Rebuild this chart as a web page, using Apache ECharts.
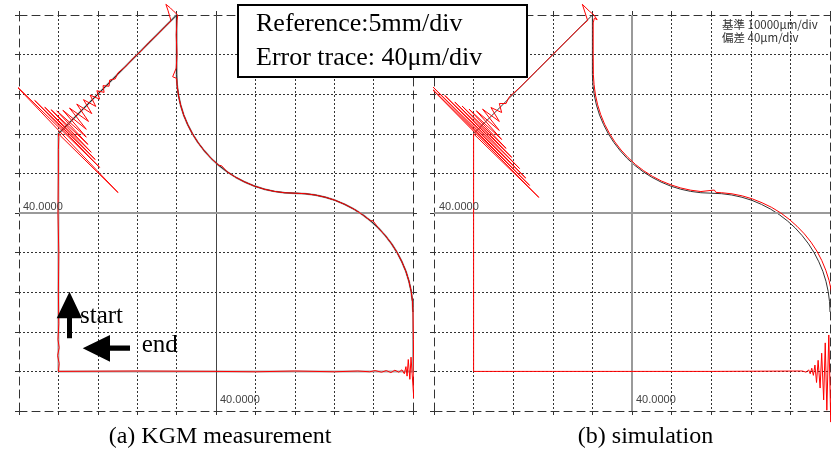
<!DOCTYPE html>
<html>
<head>
<meta charset="utf-8">
<script src="https://cdn.jsdelivr.net/npm/echarts@6/dist/echarts.min.js"></script>
<style>
  html, body { margin: 0; padding: 0; background: #fff; }
  #chart { width: 831px; height: 457px; }
</style>
</head>
<body>
<div id="chart"></div>
<script>
// ---- axis range (mm) : 5 mm per division ----
const axisMin = 15;
const axisMax = 65;
const axisStep = 5;
const centerValue = 40;
const centerLabel = '40.0000';

// ---- commanded reference path (mm) ----
const refPath = [[20,20],[20,50],[35,65],[35,57.5],
[35.06,56.19],[35.23,54.90],[35.51,53.62],[35.90,52.37],[36.41,51.16],[37.01,50.0],[37.71,48.90],[38.51,47.86],[39.39,46.89],[40.36,46.01],[41.40,45.21],[42.5,44.51],[43.66,43.91],[44.87,43.40],[46.12,43.01],[47.40,42.73],[48.69,42.56],[50,42.5],
[51.31,42.44],[52.60,42.27],[53.88,41.99],[55.13,41.60],[56.34,41.09],[57.5,40.49],[58.60,39.79],[59.64,38.99],[60.61,38.11],[61.49,37.14],[62.29,36.10],[62.99,35.0],[63.59,33.84],[64.10,32.63],[64.49,31.38],[64.77,30.10],[64.94,28.81],[65,27.5],
[65,20],[20,20]];

// ---- (a) KGM measurement error trace (mm) ----
const traceA = [[20,20],[20.1,21],[19.9,22],[20.1,23],[19.95,24],[20.05,26],[20,30],[20.05,35],[19.95,40],[20,45],[20,48],[20.05,49.5],[20,50],
[27.57,42.58],[13.99,56.72],[25.23,45.76],[17.0,54.21],[24.67,46.75],[18.27,53.36],[24.17,47.67],[19.08,53.04],[23.75,48.66],[19.79,52.90],[23.54,49.58],[20.57,52.97],[23.54,50.57],[21.41,53.25],[23.82,51.56],[22.33,53.75],[24.24,52.55],[23.18,54.31],[24.74,53.46],[24.03,54.88],[25.23,54.38],[24.88,55.44],[25.80,55.23],[25.66,56.08],[26.43,56.01],[26.51,56.79],[27.21,56.93],[27.57,57.71],
[28.5,58.45],[29.5,59.55],[30.5,60.45],[31.5,61.55],[32.5,62.45],[33.5,63.5],[34.3,64.25],[33.9,65.6],[33.64,66.35],[34.2,65.9],[34.7,65.4],[35.15,65.0],[35.05,64.3],[34.95,62.5],[35.05,60],[34.95,58.3],[34.5,57.2],[35.0,57.0],
[35.06,56.19],[35.23,54.90],[35.51,53.62],[35.90,52.37],[36.41,51.16],[37.01,50.0],[37.71,48.90],[38.51,47.86],[38.75,47.9],[39.39,46.89],[39.6,46.95],[40.36,46.01],[40.7,45.98],[41.40,45.21],[42.5,44.51],[43.66,43.91],[43.85,44.0],[44.87,43.40],[46.12,43.01],[47.40,42.73],[48.69,42.56],[50,42.5],
[51.31,42.44],[52.60,42.27],[53.88,41.99],[55.13,41.60],[56.34,41.09],[57.5,40.49],[57.75,40.5],[58.60,39.79],[58.85,39.85],[59.64,38.99],[59.9,39.05],[60.61,38.11],[60.85,38.2],[61.49,37.14],[62.29,36.10],[62.5,36.2],[62.99,35.0],[63.59,33.84],[64.10,32.63],[64.49,31.38],[64.77,30.10],[64.94,28.81],[65,27.5],
[65.05,24],[65.1,20],[65.1,16.6],[64.75,21.8],[64.6,19.0],[64.4,21.5],[64.25,19.4],[64.1,20.6],[63.9,19.7],[63.6,20.2],[63.2,19.9],[62.7,20.15],[62.2,19.85],[61.6,20.1],[61.0,19.9],[60.2,20.1],[59.5,19.95],[58,20.05],[55,19.95],[50,20.05],[45,19.95],[40,20],[30,20.05],[20,20]];

// ---- (b) simulation error trace (mm) ----
const traceB = [[20,20],[20,35],[20,50],
[28.24,41.97],[12.08,58.34],[27.07,43.49],[14.73,56.05],[26.58,44.41],[16.36,54.84],[25.80,45.62],[17.63,54.00],[24.81,47.03],[18.55,53.50],[24.10,48.16],[19.43,53.11],[23.54,49.29],[20.35,52.90],[23.25,50.42],[21.13,53.11],[23.25,51.56],[22.19,53.32],[23.54,52.69],[23.25,53.82],[24.10,53.82],[24.45,54.60],
[26,56],[28,58],[30,60],[32,62],[33.5,63.5],[34.4,64.3],[33.73,66.35],[34.6,65.5],[35.2,65.0],[35.6,64.4],[35.25,64.6],[35.1,64],[35.1,60],[35.12,57.5],
[35.21,56.20],[35.38,54.92],[35.66,53.66],[36.05,52.42],[36.54,51.22],[37.14,50.07],[37.83,48.98],[38.62,47.95],[39.50,47.0],[40.45,46.12],[41.48,45.33],[42.57,44.64],[43.72,44.04],[44.92,43.55],[46.16,43.16],[47.42,42.88],[48.70,42.71],[50.4,42.9],[50.6,42.6],
[51.32,42.56],[52.63,42.42],[53.93,42.16],[55.20,41.78],[56.43,41.29],[57.63,40.71],[58.76,40.02],[59.83,39.22],[60.83,38.33],[61.76,37.37],[62.60,36.32],[63.34,35.20],[63.96,34.01],[64.47,32.77],[64.88,31.49],[65.17,30.17],[65.32,28.84],[65.35,27.5],
[65.3,25.5],[65.25,24.8],[65.1,13.6],[64.85,24.6],[64.6,15.1],[64.4,23.6],[64.2,16.4],[63.95,22.3],[63.75,17.9],[63.5,21.4],[63.3,18.6],[63.1,20.8],[62.9,19.5],[62.7,20.4],[62.5,19.7],[62.3,20.2],[62.0,19.9],[61.5,20.05],[50,20],[40,20],[30,20],[20,20]];

// ---- texts ----
const boxLines = ['Reference:5mm/div', 'Error trace: 40\u03bcm/div'];
const captions = ['(a) KGM measurement', '(b) simulation'];
const scaleNotes = ['基準 10000\u03bcm/div', '偏差 40\u03bcm/div'];
const arrowLabels = ['start', 'end'];

// dark reference stroke: from the first corner to the end of the second arc
const refDark = refPath.slice(1, refPath.length - 2);

const chart = echarts.init(document.getElementById('chart'), null, { renderer: 'canvas' });

const dashBorder = { color: '#333', width: 1, type: [8, 5] };
const gridDots = { color: '#333', width: 1, type: [2, 2] };
function makeAxis(gi, pos, withSplit) {
  return {
    type: 'value', gridIndex: gi, min: axisMin, max: axisMax, interval: axisStep, position: pos,
    axisLine: { show: true, onZero: false, lineStyle: dashBorder },
    axisTick: { show: true, length: 4, lineStyle: { color: '#333' } },
    axisLabel: { show: false },
    splitLine: withSplit
      ? { show: true, showMinLine: false, showMaxLine: false, lineStyle: gridDots }
      : { show: false }
  };
}

function centerMarks(vColor, vWidth) {
  return {
    silent: true, symbol: ['none', 'none'], label: { show: false },
    data: [
      { xAxis: centerValue, lineStyle: { color: vColor, width: vWidth, type: 'solid' } },
      { yAxis: centerValue, lineStyle: { color: '#9a9a9a', width: 2, type: 'solid' } }
    ]
  };
}

const seriesList = [
  // panel (a)
  { type: 'line', xAxisIndex: 0, yAxisIndex: 0, data: refPath, symbol: 'none', silent: true,
    lineStyle: { color: '#a8a8a8', width: 2 }, markLine: centerMarks('#444', 1), z: 1 },
  { type: 'line', xAxisIndex: 0, yAxisIndex: 0, data: refDark, symbol: 'none', silent: true,
    lineStyle: { color: '#222', width: 1 }, z: 2 },
  { type: 'line', xAxisIndex: 0, yAxisIndex: 0, data: traceA, symbol: 'none', silent: true, clip: false,
    lineStyle: { color: '#ff0000', width: 1 }, z: 10 },
  // panel (b)
  { type: 'line', xAxisIndex: 2, yAxisIndex: 2, data: refDark, symbol: 'none', silent: true,
    lineStyle: { color: '#333', width: 1 }, markLine: centerMarks('#9a9a9a', 2), z: 1 },
  { type: 'line', xAxisIndex: 2, yAxisIndex: 2, data: traceB, symbol: 'none', silent: true, clip: false,
    lineStyle: { color: '#ff0000', width: 1 }, z: 10 }
];

function txt(x, y, text, font, align, color) {
  return { type: 'text', x: x, y: y, z: 110,
    style: { text: text, font: font, fill: color || '#000', align: align || 'left', textAlign: align || 'left',
             verticalAlign: 'middle', textVerticalAlign: 'middle' } };
}

const serifBig = '26px "Liberation Serif", "Times New Roman", serif';
const serifCap = '24px "Liberation Serif", "Times New Roman", serif';
const serifArrow = '25px "Liberation Serif", "Times New Roman", serif';
const smallSans = '11px "Liberation Sans", Arial, sans-serif';
const cjk = '11.5px "Noto Sans CJK JP", sans-serif';

const option = {
  animation: false,
  backgroundColor: '#fff',
  grid: [
    { left: 19, top: 15, width: 394, height: 396 },
    { left: 434, top: 15, width: 396, height: 396 }
  ],
  xAxis: [makeAxis(0, 'bottom', true), makeAxis(0, 'top', false),
          makeAxis(1, 'bottom', true), makeAxis(1, 'top', false)],
  yAxis: [makeAxis(0, 'left', true), makeAxis(0, 'right', false),
          makeAxis(1, 'left', true), makeAxis(1, 'right', false)],
  series: seriesList,
  graphic: [
    txt(23, 207, centerLabel, smallSans, 'left', '#444'),
    txt(220, 400, centerLabel, smallSans, 'left', '#444'),
    txt(439, 207, centerLabel, smallSans, 'left', '#444'),
    txt(636, 400, centerLabel, smallSans, 'left', '#444'),
    txt(722, 25, scaleNotes[0], cjk, 'left', '#333'),
    txt(722, 37.5, scaleNotes[1], cjk, 'left', '#333'),
    { type: 'rect', z: 100, shape: { x: 238, y: 5, width: 289, height: 72 },
      style: { fill: '#fff', stroke: '#000', lineWidth: 2 } },
    txt(256, 24.5, boxLines[0], serifBig, 'left', '#000'),
    txt(256, 57.8, boxLines[1], serifBig, 'left', '#000'),
    txt(220, 437, captions[0], serifCap, 'center', '#000'),
    txt(645.5, 437, captions[1], serifCap, 'center', '#000'),
    { type: 'polygon', z: 105, shape: { points: [[69.5,291.7],[82,318.3],[72,318.3],[72,338.3],[67,338.3],[67,318.3],[56.7,318.3]] },
      style: { fill: '#000' } },
    { type: 'polygon', z: 105, shape: { points: [[82.7,348.3],[110,335],[110,345.5],[130,345.5],[130,350.8],[110,350.8],[110,361.7]] },
      style: { fill: '#000' } },
    txt(80, 316.5, arrowLabels[0], serifArrow, 'left', '#000'),
    txt(141.7, 345.5, arrowLabels[1], serifArrow, 'left', '#000')
  ]
};

chart.setOption(option);
</script>
</body>
</html>
